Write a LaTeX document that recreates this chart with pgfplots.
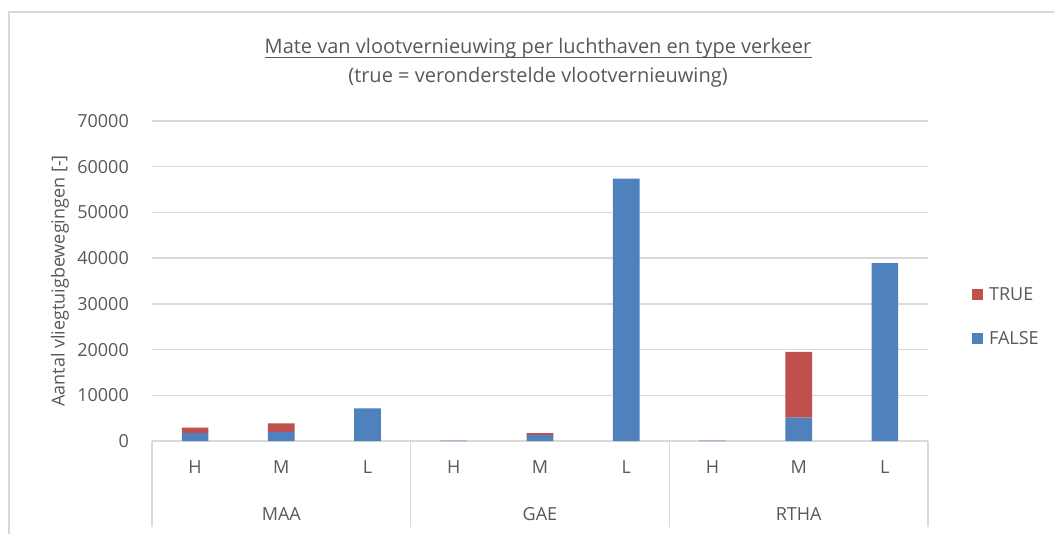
\documentclass[border=0pt]{standalone}
\usepackage{fontspec}
\setmainfont{Open Sans}
\usepackage{pgfplots}
\pgfplotsset{compat=1.18}
\definecolor{txt}{HTML}{595959}
\definecolor{gridc}{HTML}{D9D9D9}
\definecolor{bblue}{HTML}{4F81BD}
\definecolor{bred}{HTML}{C0504D}
\begin{document}
\begin{tikzpicture}
\useasboundingbox (-152pt,-92pt) rectangle (902pt,441pt);
\fill[white] (-152pt,-92pt) rectangle (902pt,441pt);
\draw[gridc, line width=1.3pt] (-143pt,-100pt) -- (-143pt,429pt) -- (910pt,429pt);
\node[txt, anchor=base, inner sep=0pt, font=\fontsize{20}{24}\selectfont] (t) at (386pt,387pt) {Mate van vlootvernieuwing per luchthaven en type verkeer};
\draw[txt, line width=0.9pt] ([yshift=-3.5pt]t.base west) -- ([yshift=-3.5pt]t.base east);
\node[txt, anchor=base, font=\fontsize{20}{24}\selectfont] at (386pt,358pt) {(true = veronderstelde vlootvernieuwing)};
\begin{axis}[
  at={(0pt,0pt)}, anchor=south west,
  scale only axis, width=776pt, height=320pt,
  xmin=-0.5, xmax=8.5, ymin=0, ymax=70000,
  ybar stacked, bar width=26.7pt,
  xtick={0,...,8}, xticklabels={H,M,L,H,M,L,H,M,L},
  ytick={0,10000,...,70000},
  scaled y ticks=false,
  yticklabel={\pgfmathprintnumber[fixed,1000 sep={}]{\tick}},
  /pgf/number format/assume math mode=true,
  ymajorgrids, grid style={gridc, line width=1.3pt},
  axis line style={draw=none}, tick style={draw=none},
  xticklabel style={anchor=center, yshift=-26pt, inner sep=0pt, txt, font=\fontsize{18}{22}\selectfont},
  yticklabel style={anchor=east, xshift=-23pt, inner sep=0pt, txt, font=\fontsize{18}{22}\selectfont},
  clip=false,
  reverse legend,
  legend style={at={(rel axis cs:1.0566,0.3906)}, anchor=west, draw=none, fill=none, inner sep=0pt,
    row sep=31pt, column sep=6pt,
    nodes={inner sep=0pt, text height=13pt, text depth=0pt, txt, font=\fontsize{18}{22}\selectfont}},
  legend cell align=left,
  legend image code/.code={\fill[#1] (0pt,-5.5pt) rectangle (11pt,5.5pt);},
]
\addplot[fill=bblue, draw=none] coordinates {(0,1700) (1,2000) (2,7150) (3,100) (4,1300) (5,57400) (6,100) (7,5100) (8,38900)};
\addplot[fill=bred, draw=none] coordinates {(0,1200) (1,1850) (2,0) (3,0) (4,450) (5,0) (6,0) (7,14400) (8,0)};
\legend{FALSE,TRUE}
\coordinate (s0) at (axis cs:-0.5,0);
\coordinate (s1) at (axis cs:2.5,0);
\coordinate (s2) at (axis cs:5.5,0);
\coordinate (s3) at (axis cs:8.5,0);
\coordinate (g0) at (axis cs:1,0);
\coordinate (g1) at (axis cs:4,0);
\coordinate (g2) at (axis cs:7,0);
\end{axis}
\foreach \s in {s0,s1,s2,s3} {\draw[gridc, line width=1.3pt] (\s) -- ([yshift=-86pt]\s);}
\node[txt, font=\fontsize{18}{22}\selectfont, anchor=center] at ([yshift=-73pt]g0) {MAA};
\node[txt, font=\fontsize{18}{22}\selectfont, anchor=center] at ([yshift=-73pt]g1) {GAE};
\node[txt, font=\fontsize{18}{22}\selectfont, anchor=center] at ([yshift=-73pt]g2) {RTHA};
\node[txt, rotate=90, font=\fontsize{18}{22}\selectfont, anchor=center] at (-92pt,160pt) {Aantal vliegtuigbewegingen [-]};
\end{tikzpicture}
\end{document}
